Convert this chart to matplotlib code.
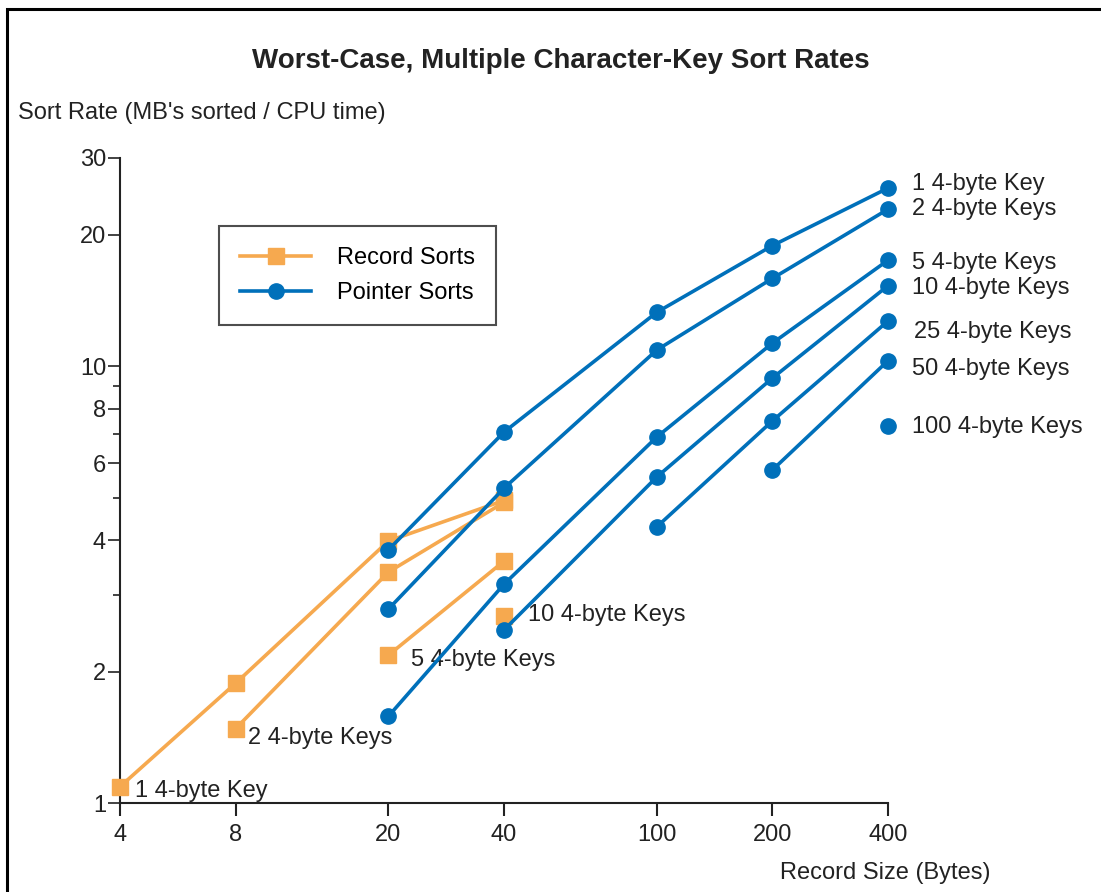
import numpy as np
import matplotlib.pyplot as plt
from matplotlib.patches import Rectangle
from matplotlib.ticker import FixedLocator, NullFormatter

plt.rcParams['font.family'] = ['Liberation Sans', 'DejaVu Sans']

# --- Data ---
record_sizes = [4, 8, 20, 40, 100, 200, 400]

# Record sorts : one series per key count
rec_1key_x = [4, 8, 20, 40]
rec_1key_y = [1.09, 1.88, 3.98, 4.93]
rec_2key_x = [8, 20, 40]
rec_2key_y = [1.48, 3.38, 4.88]
rec_5key_x = [20, 40]
rec_5key_y = [2.18, 3.58]
rec_10key_x = [40]
rec_10key_y = [2.68]

# Pointer sorts
ptr_1key_x = [20, 40, 100, 200, 400]
ptr_1key_y = [3.80, 7.07, 13.3, 18.9, 25.6]
ptr_2key_x = [20, 40, 100, 200, 400]
ptr_2key_y = [2.78, 5.26, 10.9, 15.9, 22.9]
ptr_5key_x = [20, 40, 100, 200, 400]
ptr_5key_y = [1.58, 3.17, 6.89, 11.3, 17.5]
ptr_10key_x = [40, 100, 200, 400]
ptr_10key_y = [2.49, 5.58, 9.40, 15.3]
ptr_25key_x = [100, 200, 400]
ptr_25key_y = [4.29, 7.50, 12.7]
ptr_50key_x = [200, 400]
ptr_50key_y = [5.79, 10.3]
ptr_100key_x = [400]
ptr_100key_y = [7.30]

record_series = [
    (rec_1key_x, rec_1key_y, "1 4-byte Key"),
    (rec_2key_x, rec_2key_y, "2 4-byte Keys"),
    (rec_5key_x, rec_5key_y, "5 4-byte Keys"),
    (rec_10key_x, rec_10key_y, "10 4-byte Keys"),
]
pointer_series = [
    (ptr_1key_x, ptr_1key_y, "1 4-byte Key"),
    (ptr_2key_x, ptr_2key_y, "2 4-byte Keys"),
    (ptr_5key_x, ptr_5key_y, "5 4-byte Keys"),
    (ptr_10key_x, ptr_10key_y, "10 4-byte Keys"),
    (ptr_25key_x, ptr_25key_y, "25 4-byte Keys"),
    (ptr_50key_x, ptr_50key_y, "50 4-byte Keys"),
    (ptr_100key_x, ptr_100key_y, "100 4-byte Keys"),
]

y_major = [1, 2, 4, 6, 8, 10, 20, 30]
y_minor = [3, 5, 7, 9]

ORANGE = '#F6A94F'
BLUE = '#0070BA'
TXT = '#222222'
FS = 17

fig = plt.figure(figsize=(11.01, 8.92), dpi=100)
ax = fig.add_axes([120 / 1101, 1 - 803 / 892, 768 / 1101, 645 / 892])

# frame around the figure (cut off on the right and bottom like the reference)
fig.patches.append(Rectangle((7 / 1101, -0.1), 1.2, 1.1 - 9 / 892,
                             transform=fig.transFigure, fill=False,
                             edgecolor='black', linewidth=2.2))

for xs, ys, lab in record_series:
    ax.plot(xs, ys, color=ORANGE, lw=2.6, marker='s', ms=11, mec=ORANGE,
            clip_on=False, zorder=3)
for xs, ys, lab in pointer_series:
    ax.plot(xs, ys, color=BLUE, lw=2.6, marker='o', ms=11, mec=BLUE,
            clip_on=False, zorder=4)

# labels for record sorts (next to the first point)
rec_offsets = [(11, -3), (9, -6.5), (16.5, -3.6), (17, 1)]
for (xs, ys, lab), off in zip(record_series, rec_offsets):
    ax.annotate(lab, (xs[0], ys[0]), xytext=off, textcoords='offset points',
                ha='left', va='center', fontsize=FS, color=TXT)

# labels for pointer sorts (right of the last point)
ptr_offsets = [(17, 2.8), (17, 0), (17, -2), (17, -1.5), (19, -7.8), (17, -6.3), (17, -0.8)]
for (xs, ys, lab), off in zip(pointer_series, ptr_offsets):
    ax.annotate(lab, (xs[-1], ys[-1]), xytext=off, textcoords='offset points',
                ha='left', va='center', fontsize=FS, color=TXT,
                annotation_clip=False)

ax.set_xscale('log')
ax.set_yscale('log')
ax.set_xlim(4, 400)
ax.set_ylim(1, 30)

ax.xaxis.set_major_locator(FixedLocator(record_sizes))
ax.set_xticklabels([str(v) for v in record_sizes])
ax.xaxis.set_minor_locator(FixedLocator([]))
ax.yaxis.set_major_locator(FixedLocator(y_major))
ax.set_yticklabels([str(v) for v in y_major])
ax.yaxis.set_minor_locator(FixedLocator(y_minor))
ax.yaxis.set_minor_formatter(NullFormatter())

for s in ['top', 'right']:
    ax.spines[s].set_visible(False)
for s in ['left', 'bottom']:
    ax.spines[s].set_linewidth(1.5)
    ax.spines[s].set_color(TXT)

ax.tick_params(axis='x', which='major', direction='out', length=9, width=1.5,
               labelsize=FS, pad=6, colors=TXT)
ax.tick_params(axis='y', which='major', direction='out', length=9, width=1.2,
               labelsize=FS, pad=1, colors=TXT)
ax.tick_params(axis='y', which='minor', direction='out', length=5, width=1.2,
               colors=TXT)

fig.text(561 / 1101, 1 - 61 / 892, 'Worst-Case, Multiple Character-Key Sort Rates',
         ha='center', va='center', fontsize=20, fontweight='bold', color=TXT)
fig.text(18 / 1101, 1 - 113 / 892, "Sort Rate (MB's sorted / CPU time)",
         ha='left', va='center', fontsize=FS, color=TXT)
fig.text(990 / 1101, 1 - 873 / 892, 'Record Size (Bytes)',
         ha='right', va='center', fontsize=FS, color=TXT)

leg = ax.legend(handles=[
    plt.Line2D([], [], color=ORANGE, lw=2.6, marker='s', ms=11),
    plt.Line2D([], [], color=BLUE, lw=2.6, marker='o', ms=11)],
    labels=['Record Sorts', 'Pointer Sorts'],
    loc='upper left', bbox_to_anchor=((219 - 120) / 768, (803 - 226) / 645),
    fontsize=FS, frameon=True, fancybox=False, edgecolor=TXT,
    handlelength=3.0, handletextpad=1.1, borderpad=0.9, labelspacing=0.55,
    borderaxespad=0)
leg.get_frame().set_linewidth(1.5)

fig.savefig('out.png', dpi=100, facecolor='white')
